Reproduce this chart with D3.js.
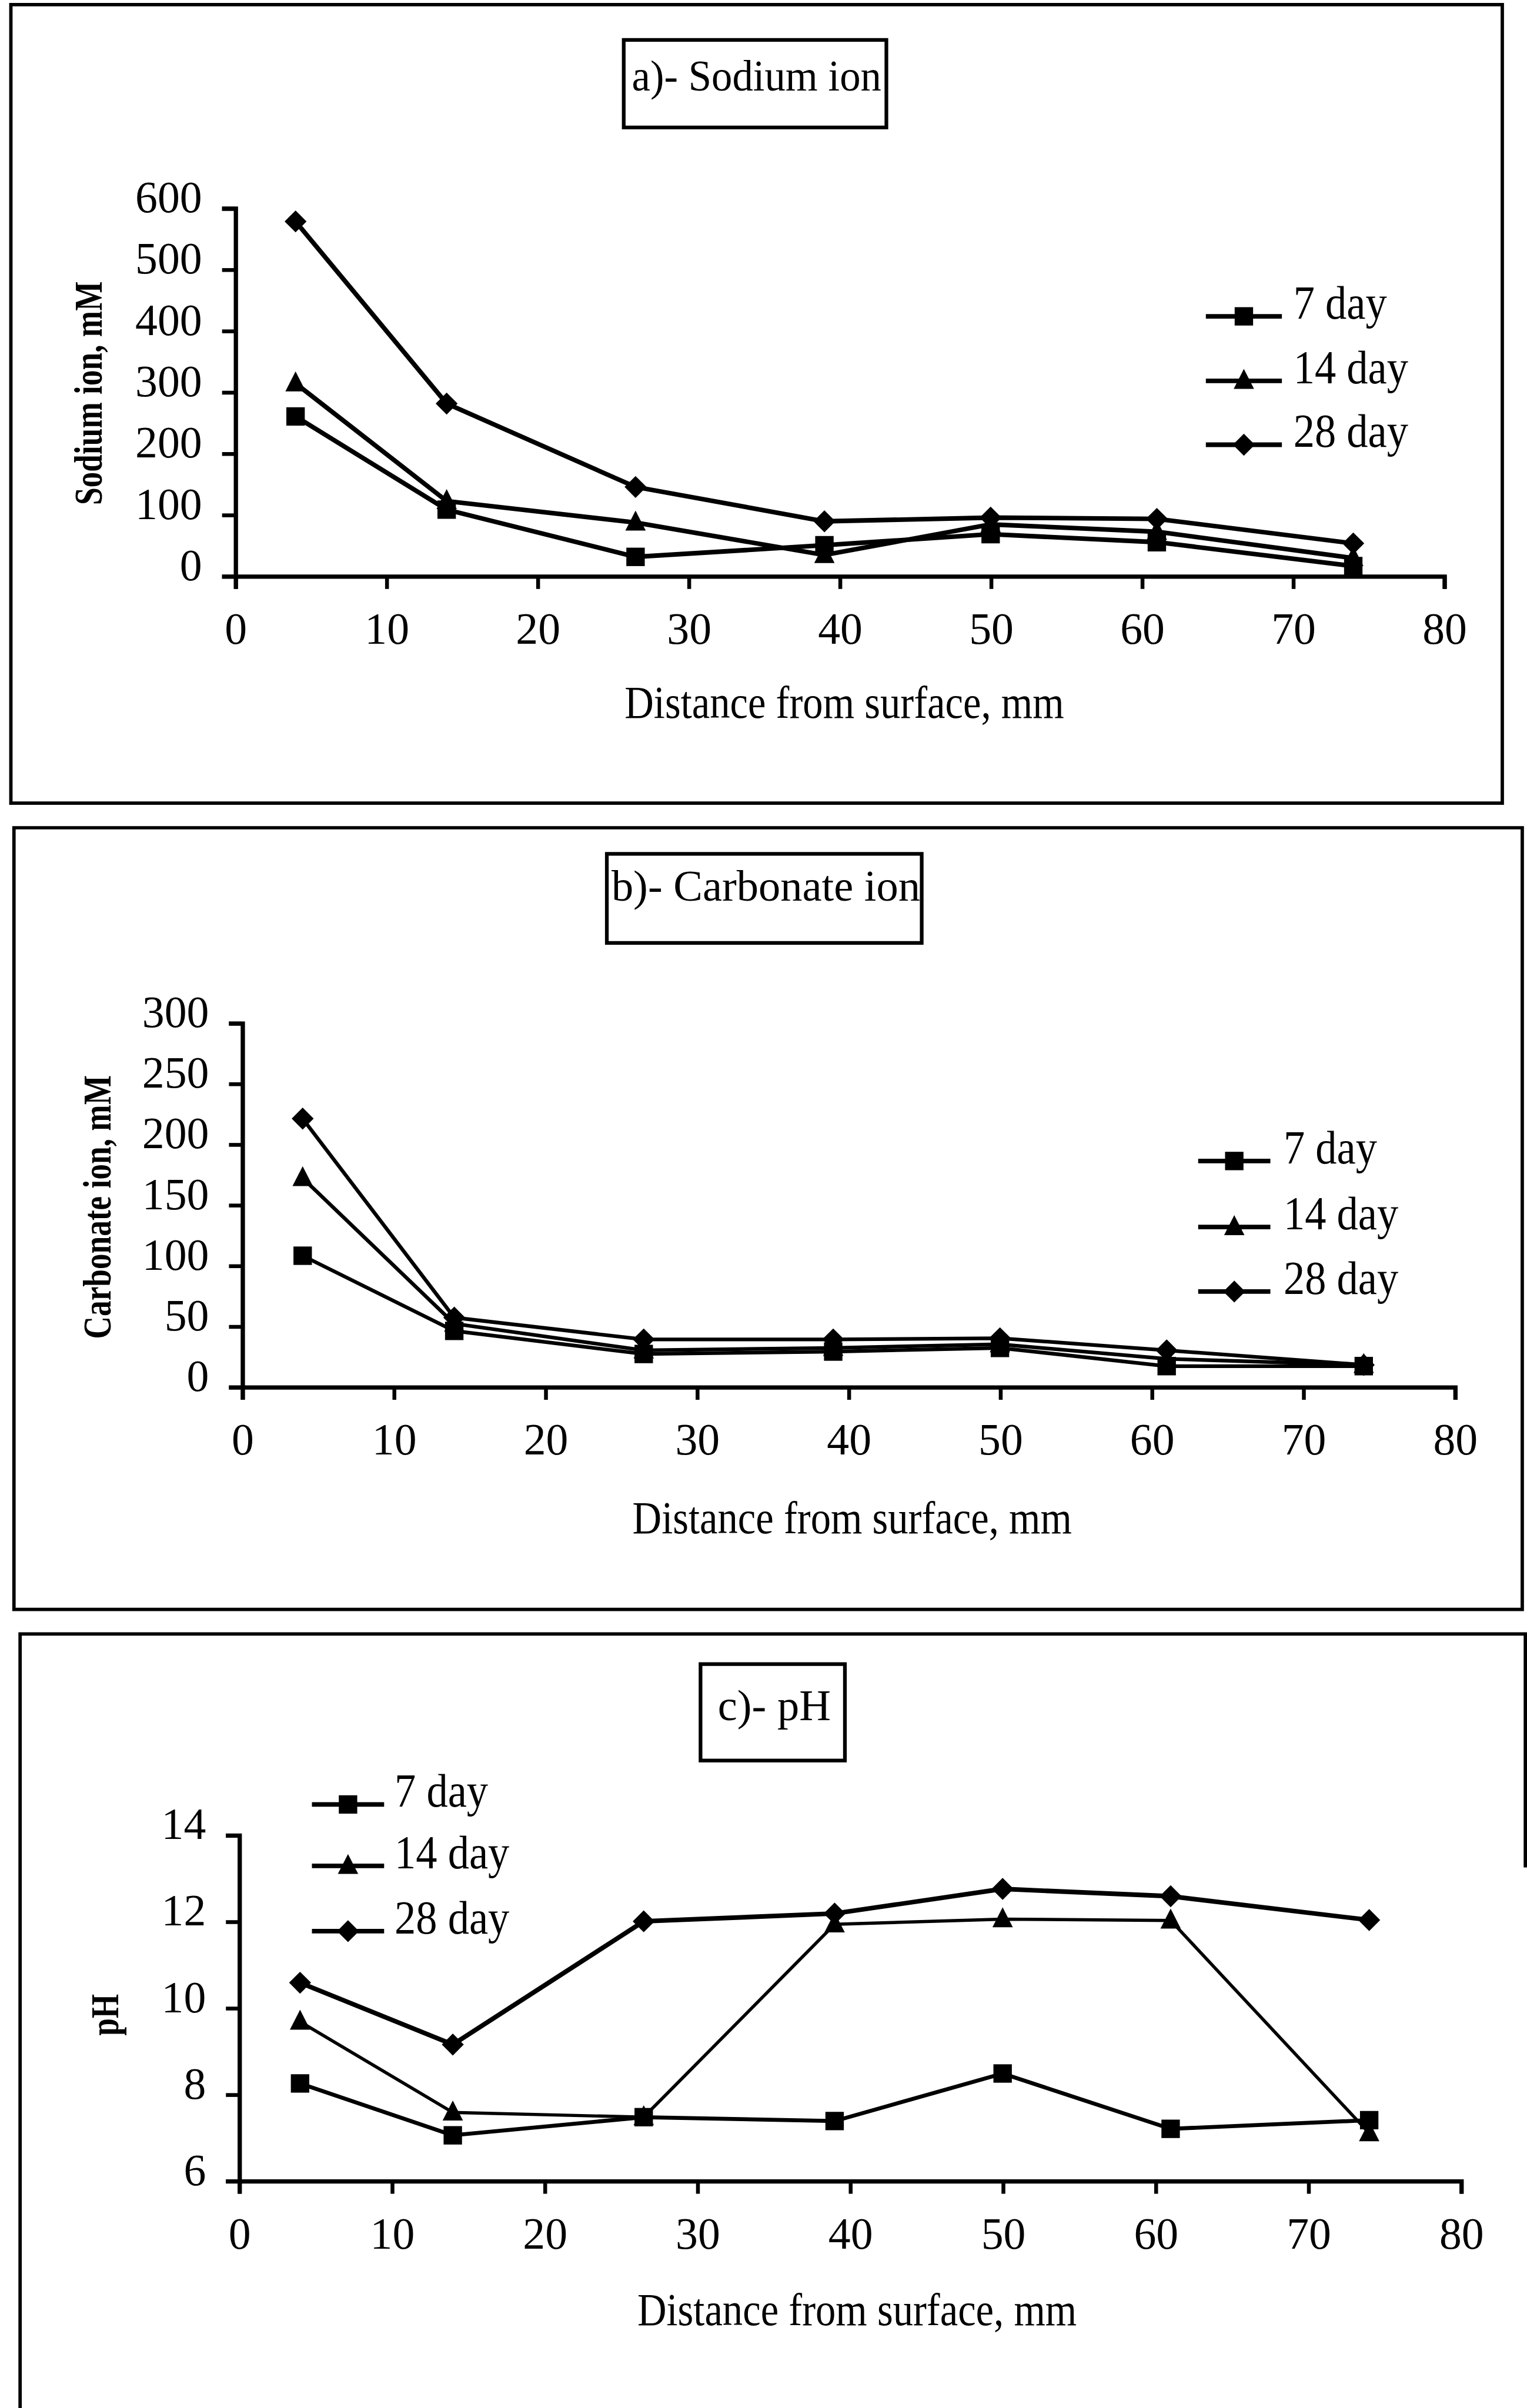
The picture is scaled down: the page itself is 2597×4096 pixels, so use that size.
<!DOCTYPE html>
<html>
<head>
<meta charset="utf-8">
<script src="https://cdn.jsdelivr.net/npm/d3@7"></script>
<style>
  html, body { margin: 0; padding: 0; background: #fff; }
  svg { display: block; }
</style>
</head>
<body>
<svg id="fig"></svg>
<script>
// ---- data -------------------------------------------------------------
const distance = [4, 14, 26.5, 39, 50, 61, 74];          // mm from surface
const seriesNames = ["7 day", "14 day", "28 day"];

const sodium7  = [260, 108, 31, 50, 68, 55, 16];
const sodium14 = [314, 122, 87, 34, 84, 72, 29];
const sodium28 = [578, 281, 145, 89, 95, 93, 53];

const carbonate7  = [108, 46, 27, 29, 32, 17, 17];
const carbonate14 = [172, 52, 30, 32, 35, 23, 18];
const carbonate28 = [221, 57, 39, 39, 40, 30, 18];

const ph7  = [8.25, 7.05, 7.47, 7.38, 8.48, 7.2, 7.4];
const ph14 = [9.68, 7.58, 7.47, 11.93, 12.05, 12.02, 7.1];
const ph28 = [10.58, 9.15, 12.0, 12.18, 12.75, 12.58, 12.03];

const distanceTicks  = [0, 10, 20, 30, 40, 50, 60, 70, 80];
const sodiumTicks    = [0, 100, 200, 300, 400, 500, 600];
const carbonateTicks = [0, 50, 100, 150, 200, 250, 300];
const phTicks        = [6, 8, 10, 12, 14];

// ---- page setup -------------------------------------------------------
const W = 994, H = 1568;
const FONT = "'Liberation Serif', 'Times New Roman', serif";
const svg = d3.select("#fig")
  .attr("width", 2597).attr("height", 4096)
  .attr("viewBox", `0 0 ${W} ${H}`);
svg.append("rect").attr("width", W).attr("height", H).attr("fill", "#fff");

// marker shapes: square, triangle, diamond
const markerPath = [
  s => `M${-s/2},${-s/2}H${s/2}V${s/2}H${-s/2}Z`,
  s => `M0,${-s*0.62}L${s*0.53},${s*0.42}L${-s*0.53},${s*0.42}Z`,
  s => `M0,${-s*0.55}L${s*0.55},0L0,${s*0.55}L${-s*0.55},0Z`
];
const markerSize = [12, 12.5, 13];

function label(g, x, y, text, o) {
  return g.append("text")
    .attr("transform", `translate(${x},${y}) rotate(${o.rot || 0}) scale(${o.sx || 1},1)`)
    .attr("text-anchor", o.anchor || "start")
    .attr("font-family", FONT)
    .attr("font-size", o.size)
    .attr("font-weight", o.weight || "normal")
    .attr("fill", "#000")
    .text(text);
}

const panels = [
  {
    title: "a)- Sodium ion", yTitle: "Sodium ion, mM",
    yDomain: [0, 600], yTicks: sodiumTicks, values: [sodium7, sodium14, sodium28],
    frame: "M7,3H978V523H7Z",
    plot: { left: 153, right: 940, top: 135.4, bottom: 375 },
    box: { x0: 406, y0: 26, x1: 577, y1: 83, base: 59, sx: 0.95 },
    yLab: { x: 66, y: 256 },
    legend: { x0: 785, x1: 834.5, tx: 842, rows: [206, 248, 289.6] },
    xLab: { x: 549.6, y: 467.5 },
    lineW: [3.0, 3.0, 3.0]
  },
  {
    title: "b)- Carbonate ion", yTitle: "Carbonate ion, mM",
    yDomain: [0, 300], yTicks: carbonateTicks, values: [carbonate7, carbonate14, carbonate28],
    frame: "M9,539H991V1048H9Z",
    plot: { left: 157.5, right: 947, top: 666, bottom: 903 },
    box: { x0: 395, y0: 556, x1: 600, y1: 614, base: 586.3, sx: 1.0 },
    yLab: { x: 72, y: 786 },
    legend: { x0: 780, x1: 827, tx: 835.6, rows: [756, 799, 841] },
    xLab: { x: 554.7, y: 998.4 },
    lineW: [2.4, 2.4, 2.4]
  },
  {
    title: "c)- pH", yTitle: "pH",
    yDomain: [6, 14], yTicks: phTicks, values: [ph7, ph14, ph28],
    frame: "M13,1568V1064H993V1216",
    plot: { left: 155.5, right: 951, top: 1194.8, bottom: 1420 },
    box: { x0: 456, y0: 1083.6, x1: 550, y1: 1146.4, base: 1120.3, sx: 1.0 },
    yLab: { x: 77, y: 1312 },
    legend: { x0: 203, x1: 250, tx: 256.8, rows: [1175, 1215, 1257.5] },
    xLab: { x: 557.9, y: 1514 },
    lineW: [2.6, 2.1, 3.0]
  }
];

panels.forEach(p => {
  const g = svg.append("g");

  // outer frame
  g.append("path").attr("d", p.frame)
    .attr("fill", "none").attr("stroke", "#000").attr("stroke-width", 2.2);

  // title box
  g.append("rect")
    .attr("x", p.box.x0).attr("y", p.box.y0)
    .attr("width", p.box.x1 - p.box.x0).attr("height", p.box.y1 - p.box.y0)
    .attr("fill", "none").attr("stroke", "#000").attr("stroke-width", 2.4);
  label(g, (p.box.x0 + p.box.x1) / 2 + 1, p.box.base, p.title,
        { size: 28.5, anchor: "middle", sx: p.box.sx });

  // scales
  const x = d3.scaleLinear().domain([0, 80]).range([p.plot.left, p.plot.right]);
  const y = d3.scaleLinear().domain(p.yDomain).range([p.plot.bottom, p.plot.top]);

  // axes
  const gx = g.append("g").attr("transform", `translate(0,${p.plot.bottom})`)
    .call(d3.axisBottom(x).tickValues(distanceTicks).tickSize(8.5).tickPadding(15)
      .tickFormat(d3.format("d")));
  const gy = g.append("g").attr("transform", `translate(${p.plot.left},0)`)
    .call(d3.axisLeft(y).tickValues(p.yTicks).tickSize(8.5).tickPadding(13)
      .tickFormat(d3.format("d")));
  [gx, gy].forEach(ax => {
    ax.select(".domain").attr("stroke", "#000").attr("stroke-width", 2.8);
    ax.selectAll(".tick line").attr("stroke", "#000").attr("stroke-width", 2.5);
    ax.selectAll(".tick text")
      .attr("font-family", FONT).attr("font-size", 29).attr("fill", "#000");
  });
  gy.selectAll(".tick text").attr("y", -7);

  // axis titles
  label(g, p.xLab.x, p.xLab.y, "Distance from surface, mm",
        { size: 29.7, anchor: "middle", sx: 0.885 });
  label(g, p.yLab.x, p.yLab.y, p.yTitle,
        { size: 25.5, anchor: "middle", weight: "bold", rot: -90, sx: 0.8 });

  // series
  const line = d3.line().x((d, i) => x(distance[i])).y(d => y(d));
  p.values.forEach((vals, si) => {
    g.append("path").datum(vals).attr("d", line)
      .attr("fill", "none").attr("stroke", "#000")
      .attr("stroke-width", p.lineW[si]).attr("stroke-linejoin", "miter");
    g.selectAll(null).data(vals).enter().append("path")
      .attr("transform", (d, i) => `translate(${x(distance[i])},${y(d)})`)
      .attr("d", markerPath[si](markerSize[si]))
      .attr("fill", "#000");
  });

  // legend
  seriesNames.forEach((name, si) => {
    const ry = p.legend.rows[si];
    g.append("line")
      .attr("x1", p.legend.x0).attr("x2", p.legend.x1)
      .attr("y1", ry).attr("y2", ry)
      .attr("stroke", "#000").attr("stroke-width", 3);
    g.append("path")
      .attr("transform", `translate(${(p.legend.x0 + p.legend.x1) / 2},${ry})`)
      .attr("d", markerPath[si](markerSize[si]))
      .attr("fill", "#000");
    label(g, p.legend.tx, ry + 1.5, name, { size: 30.5, sx: 0.91 });
  });
});
</script>
</body>
</html>
